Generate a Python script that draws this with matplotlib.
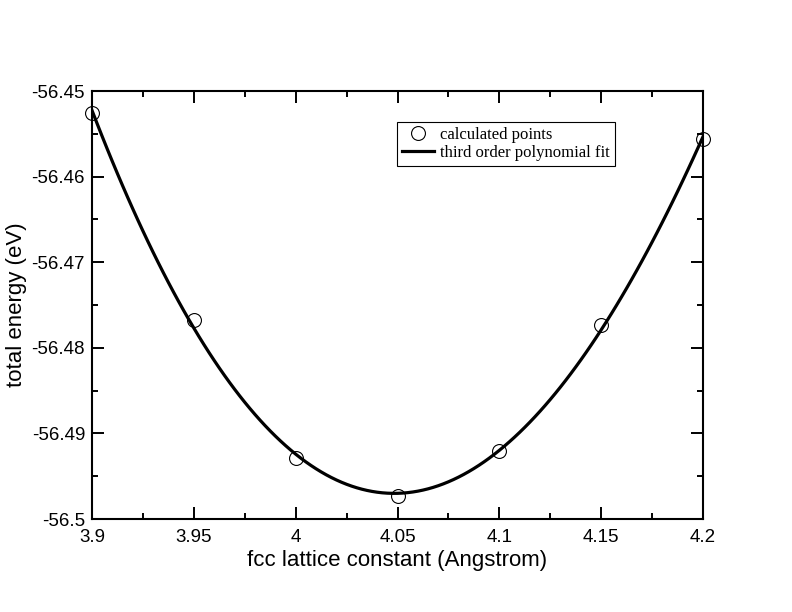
import numpy as np
import matplotlib
matplotlib.use("Agg")
import matplotlib.pyplot as plt
from matplotlib.ticker import MultipleLocator, FixedFormatter, FixedLocator
from matplotlib.lines import Line2D

# data
lattice = [3.90, 3.95, 4.00, 4.05, 4.10, 4.15, 4.20]
energy = [-56.4526, -56.4768, -56.4929, -56.4973, -56.4921, -56.4773, -56.4556]
x_ticks = [3.9, 3.95, 4.0, 4.05, 4.1, 4.15, 4.2]
x_tick_labels = ["3.9", "3.95", "4", "4.05", "4.1", "4.15", "4.2"]
y_ticks = [-56.5, -56.49, -56.48, -56.47, -56.46, -56.45]
y_tick_labels = ["-56.5", "-56.49", "-56.48", "-56.47", "-56.46", "-56.45"]

sans = ["Liberation Sans", "DejaVu Sans"]
serif = ["Liberation Serif", "DejaVu Serif"]

fig = plt.figure(figsize=(7.92, 6.12), dpi=100)
ax = fig.add_axes([92/792, 1-519/612, (703-92)/792, (519-91)/612])

# third order polynomial fit computed from the data
coef = np.polyfit(lattice, energy, 3)
xf = np.linspace(min(lattice), max(lattice), 121)
yf = np.polyval(coef, xf)

pts, = ax.plot(lattice, energy, linestyle="none", marker="o", markersize=10,
               markerfacecolor="none", markeredgecolor="black", markeredgewidth=0.8,
               clip_on=False, zorder=3)
fit, = ax.plot(xf, yf, color="black", linewidth=2.3, zorder=2)

ax.set_xlim(3.9, 4.2)
ax.set_ylim(-56.5, -56.45)
ax.xaxis.set_major_locator(FixedLocator(x_ticks))
ax.xaxis.set_major_formatter(FixedFormatter(x_tick_labels))
ax.yaxis.set_major_locator(FixedLocator(y_ticks))
ax.yaxis.set_major_formatter(FixedFormatter(y_tick_labels))
ax.xaxis.set_minor_locator(MultipleLocator(0.025))
ax.yaxis.set_minor_locator(MultipleLocator(0.005))
ax.tick_params(which="both", direction="in", top=True, right=True, width=1.4, color="black")
ax.tick_params(which="major", length=8.6, labelsize=13.5, pad=5)
ax.tick_params(axis="x", which="major", pad=7)
ax.tick_params(which="minor", length=4.3)
for lab in ax.get_xticklabels() + ax.get_yticklabels():
    lab.set_family(sans)
for s in ax.spines.values():
    s.set_linewidth(1.5)

ax.set_xlabel("fcc lattice constant (Angstrom)", family=sans, fontsize=16, labelpad=3)
ax.set_ylabel("total energy (eV)", family=sans, fontsize=16, labelpad=3)

handles = [Line2D([], [], linestyle="none", marker="o", markersize=10,
                  markerfacecolor="none", markeredgecolor="black", markeredgewidth=0.8),
           Line2D([], [], color="black", linewidth=2.3)]
leg = ax.legend(handles, ["calculated points", "third order polynomial fit"],
                loc="upper left", bbox_to_anchor=((397-92)/611, (519-122)/428),
                prop={"family": serif, "size": 12}, frameon=True, fancybox=False,
                edgecolor="black", framealpha=1, handlelength=1.9, handletextpad=0.4,
                borderpad=0.3, labelspacing=0.1, borderaxespad=0)
leg.get_frame().set_linewidth(0.8)

fig.savefig("out.png", dpi=100)
